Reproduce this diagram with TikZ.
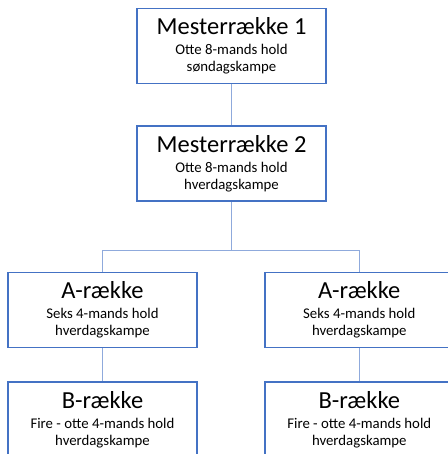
\documentclass[tikz,border=0pt]{standalone}
\usepackage{fontspec}
\setmainfont{Carlito}
\usepackage{tikz}
\usetikzlibrary{positioning}
\definecolor{boxline}{HTML}{4472C4}
\definecolor{connline}{HTML}{8FAADC}
\definecolor{txt}{HTML}{000000}
\tikzset{
  levelbox/.style={draw=boxline, line width=1.8pt, fill=white, text=txt,
    minimum width=189pt, minimum height=75pt, inner sep=2pt, align=center,
    font=\fontsize{14.8}{16.6}\selectfont},
  conn/.style={draw=connline, line width=1pt}
}
\newcommand{\lvltitle}[1]{{\fontsize{24.5}{24.5}\selectfont #1}\\[3.4pt]}

\begin{document}
\begin{tikzpicture}[x=1pt, y=-1pt]
  \useasboundingbox (0,0) rectangle (447,454);

  \node[levelbox] (mester1) at (231.5,46) {\lvltitle{Mesterrække 1}Otte 8-mands hold\\søndagskampe};
  \node[levelbox, below=41pt of mester1] (mester2) {\lvltitle{Mesterrække 2}Otte 8-mands hold\\hverdagskampe};

  \node[levelbox] (aLeft) at (102.5,310) {\lvltitle{A-række}Seks 4-mands hold\\hverdagskampe};
  \node[levelbox, right=66pt of aLeft] (aRight) {\lvltitle{A-række}Seks 4-mands hold\\hverdagskampe};

  \node[levelbox, below=33pt of aLeft]  (bLeft)  {\lvltitle{B-række}Fire - otte 4-mands hold\\hverdagskampe};
  \node[levelbox, below=33pt of aRight] (bRight) {\lvltitle{B-række}Fire - otte 4-mands hold\\hverdagskampe};

  \coordinate (split) at (mester2.south |- 0,250);

  % connectors
  \draw[conn] (mester1) -- (mester2);
  \draw[conn] (mester2) -- (split);
  \draw[conn] (split) -| (aLeft);
  \draw[conn] (split) -| (aRight);
  \draw[conn] (aLeft) -- (bLeft);
  \draw[conn] (aRight) -- (bRight);
\end{tikzpicture}
\end{document}
